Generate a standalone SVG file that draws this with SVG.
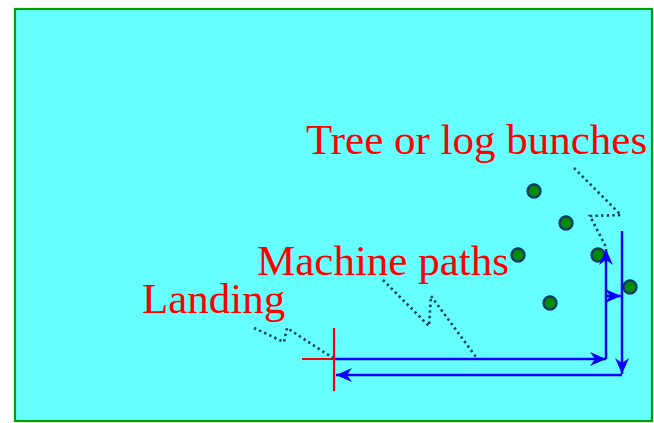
<svg xmlns="http://www.w3.org/2000/svg" width="654" height="423" viewBox="0 0 654 423">
  <style>
    .label { font-family: "Liberation Serif", "Times New Roman", serif; font-size: 43px; fill: #ff0000; }
    .path { fill: none; stroke: #0000ff; stroke-width: 2.5; }
    .leader { fill: none; stroke: #0f3f66; stroke-width: 2.6; stroke-dasharray: 2.4 3.2; }
    .tree { fill: #058a05; stroke: #0f3f66; stroke-width: 2.4; }
    .mark { fill: none; stroke: #ff0000; stroke-width: 2.2; }
  </style>
  <defs>
    <marker id="arrow" viewBox="-17 -8 19 16" refX="0" refY="0" markerWidth="19" markerHeight="16" markerUnits="userSpaceOnUse" orient="auto">
      <path d="M0,0 L-16,-7 L-11,0 L-16,7 Z" fill="#0000ff"/>
    </marker>
  </defs>

  <!-- stand area -->
  <rect id="stand" x="15" y="9" width="637" height="412" fill="#66ffff" stroke="#00a000" stroke-width="2.2"/>

  <!-- tree or log bunches -->
  <g id="bunches">
    <circle class="tree" cx="534" cy="191" r="6.5"/>
    <circle class="tree" cx="566" cy="223" r="6.5"/>
    <circle class="tree" cx="518" cy="255" r="6.5"/>
    <circle class="tree" cx="598" cy="255" r="6.5"/>
    <circle class="tree" cx="550" cy="303" r="6.5"/>
    <circle class="tree" cx="630" cy="287" r="6.5"/>
  </g>

  <!-- landing mark -->
  <g id="landing">
    <line class="mark" x1="302" y1="359" x2="336" y2="359"/>
    <line class="mark" x1="334" y1="328" x2="334" y2="391"/>
  </g>

  <!-- machine paths -->
  <g id="connectors">
    <path class="path" d="M335,359 L606,359" marker-end="url(#arrow)"/>
    <path class="path" d="M606,359 L606,249" marker-end="url(#arrow)"/>
    <path class="path" d="M606,296 L621,296" marker-end="url(#arrow)"/>
    <path class="path" d="M622,231 L622,374" marker-end="url(#arrow)"/>
    <path class="path" d="M622,375 L336,375" marker-end="url(#arrow)"/>
  </g>

  <!-- leader lines -->
  <g id="leaders">
    <polyline class="leader" points="254,328 284,342 287,328 333,358"/>
    <polyline class="leader" points="383,280 429,326 431,296 476,357"/>
    <polyline class="leader" points="574,168 621,215 590,216 606,247"/>
  </g>

  <!-- labels -->
  <g id="labels">
    <text class="label" x="306" y="154">Tree or log bunches</text>
    <text class="label" x="257" y="275">Machine paths</text>
    <text class="label" x="142" y="313">Landing</text>
  </g>
</svg>
